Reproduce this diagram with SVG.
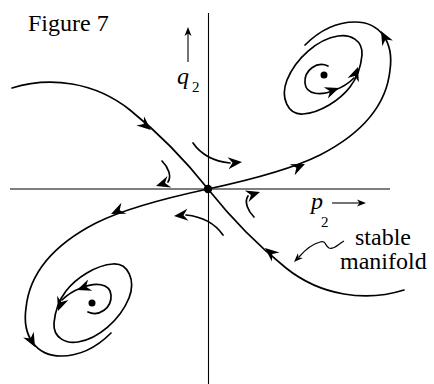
<svg xmlns="http://www.w3.org/2000/svg" xmlns:xlink="http://www.w3.org/1999/xlink" width="434" height="384" viewBox="0 0 434 384">
<style>
.c{fill:none;stroke:#000;stroke-width:1.7;stroke-linecap:round}
.ax{fill:none;stroke:#000;stroke-width:1.1}
.t{font-family:"Liberation Serif","Times New Roman",serif;font-size:24px;fill:#000}
.i{font-style:italic}
.s{font-family:"Liberation Serif","Times New Roman",serif;font-size:15px;fill:#000}
</style>
<defs>
<path id="ah" d="M0,0 L-14,-6 L-9.5,0 L-14,6 Z" fill="#000"/>
<path id="sah" d="M0,0 L-9,-3.5 L-6.5,0 L-9,3.5 Z" fill="#000"/>
<g id="half">
<path class="c" d="M208,189 C250,180 290,170 320,155 C355,137 386,110 390,70 C394,42 380,22 355,22 C335,22 318,32 305,45"/>
<use xlink:href="#ah" transform="translate(305,164) rotate(-24)"/>
<use xlink:href="#ah" transform="translate(381,31) rotate(-118)"/>
<path class="c" d="M362,55 C363,40 350,34 338,36 C318,39 296,58 287,80 C280,98 288,115 303,114 C320,113 340,100 350,87 C357,78 361,66 362,55 Z"/>
<path class="c" d="M328,66 C317,61 304,70 305,83 C306,95 321,96 335,90 C343,87 349,83 354,78"/>
<use xlink:href="#ah" transform="translate(339,88) rotate(-20)"/>
<use xlink:href="#ah" transform="translate(358,67) rotate(-70)"/>
<circle cx="324" cy="75" r="3.5" fill="#000"/>
<path class="c" d="M12,88 C50,76 95,82 130,110 C160,134 185,160 208,189"/>
<use xlink:href="#ah" transform="translate(151,130) rotate(40)"/>
<path class="c" d="M193,143 C200,153 210,161 230,163"/>
<use xlink:href="#ah" transform="translate(242,162) rotate(-5)"/>
<path class="c" d="M162,161 C168,167 172,176 168,182"/>
<use xlink:href="#ah" transform="translate(156,186) rotate(162)"/>
</g>
</defs>
<g id="axes">
<line class="ax" x1="208.5" y1="13" x2="208.5" y2="384"/>
<line class="ax" x1="10" y1="189" x2="390" y2="189"/>
</g>
<g id="connectors">
<use xlink:href="#half"/>
<use xlink:href="#half" transform="rotate(180 208 189)"/>
</g>
<circle id="origin" cx="208" cy="189" r="4.2" fill="#000"/>
<g id="labels">
<text class="t" x="28" y="31">Figure 7</text>
<text class="t i" x="177" y="84">q</text>
<text class="s" x="192" y="92">2</text>
<line class="ax" x1="188" y1="62" x2="188" y2="32"/>
<use xlink:href="#sah" transform="translate(188,27) rotate(-90)"/>
<text class="t i" x="311" y="209">p</text>
<text class="s" x="321" y="227">2</text>
<line class="ax" x1="332" y1="203" x2="362" y2="203"/>
<use xlink:href="#sah" transform="translate(366,203)"/>
<text class="t" x="355" y="245">stable</text>
<text class="t" x="340" y="269">manifold</text>
<path fill="none" stroke="#000" stroke-width="1.2" d="M344,241 C338,244 334,250 329,248 C325,246 326,240 320,242 C312,244 305,250 299,257"/>
<use xlink:href="#sah" transform="translate(294,262) rotate(135)"/>
</g>
</svg>
